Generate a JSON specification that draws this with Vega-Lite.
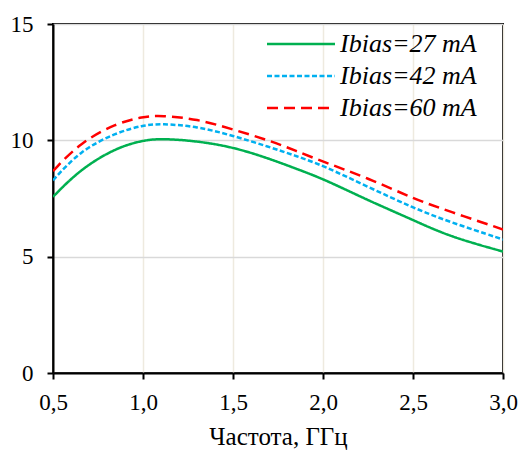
{
  "$schema": "https://vega.github.io/schema/vega-lite/v6.json",
  "width": 450,
  "height": 349,
  "autosize": "none",
  "padding": {"left": 53, "top": 24, "right": 18, "bottom": 77},
  "background": "white",
  "config": {
    "font": "'Liberation Serif', 'Times New Roman', serif",
    "view": {"stroke": "black", "strokeWidth": 2}
  },
  "datasets": {
    "curves": [
      {"f": 0.5, "k": 7.57, "s": "Ibias=27 mA"},
      {"f": 0.65, "k": 8.75, "s": "Ibias=27 mA"},
      {"f": 0.85, "k": 9.68, "s": "Ibias=27 mA"},
      {"f": 1.0, "k": 10.0, "s": "Ibias=27 mA"},
      {"f": 1.1, "k": 10.08, "s": "Ibias=27 mA"},
      {"f": 1.3, "k": 9.97, "s": "Ibias=27 mA"},
      {"f": 1.5, "k": 9.71, "s": "Ibias=27 mA"},
      {"f": 1.7, "k": 9.22, "s": "Ibias=27 mA"},
      {"f": 1.85, "k": 8.78, "s": "Ibias=27 mA"},
      {"f": 2.0, "k": 8.35, "s": "Ibias=27 mA"},
      {"f": 2.25, "k": 7.42, "s": "Ibias=27 mA"},
      {"f": 2.5, "k": 6.58, "s": "Ibias=27 mA"},
      {"f": 2.7, "k": 5.87, "s": "Ibias=27 mA"},
      {"f": 3.0, "k": 5.22, "s": "Ibias=27 mA"},
      {"f": 0.5, "k": 8.28, "s": "Ibias=42 mA"},
      {"f": 0.65, "k": 9.55, "s": "Ibias=42 mA"},
      {"f": 0.85, "k": 10.33, "s": "Ibias=42 mA"},
      {"f": 1.0, "k": 10.65, "s": "Ibias=42 mA"},
      {"f": 1.1, "k": 10.72, "s": "Ibias=42 mA"},
      {"f": 1.3, "k": 10.6, "s": "Ibias=42 mA"},
      {"f": 1.5, "k": 10.2, "s": "Ibias=42 mA"},
      {"f": 1.7, "k": 9.72, "s": "Ibias=42 mA"},
      {"f": 1.85, "k": 9.33, "s": "Ibias=42 mA"},
      {"f": 2.0, "k": 8.92, "s": "Ibias=42 mA"},
      {"f": 2.25, "k": 8.0, "s": "Ibias=42 mA"},
      {"f": 2.5, "k": 7.1, "s": "Ibias=42 mA"},
      {"f": 2.7, "k": 6.5, "s": "Ibias=42 mA"},
      {"f": 3.0, "k": 5.74, "s": "Ibias=42 mA"},
      {"f": 0.5, "k": 8.68, "s": "Ibias=60 mA"},
      {"f": 0.65, "k": 9.9, "s": "Ibias=60 mA"},
      {"f": 0.85, "k": 10.73, "s": "Ibias=60 mA"},
      {"f": 1.0, "k": 11.02, "s": "Ibias=60 mA"},
      {"f": 1.1, "k": 11.07, "s": "Ibias=60 mA"},
      {"f": 1.3, "k": 10.92, "s": "Ibias=60 mA"},
      {"f": 1.5, "k": 10.47, "s": "Ibias=60 mA"},
      {"f": 1.7, "k": 10.0, "s": "Ibias=60 mA"},
      {"f": 1.85, "k": 9.55, "s": "Ibias=60 mA"},
      {"f": 2.0, "k": 9.08, "s": "Ibias=60 mA"},
      {"f": 2.25, "k": 8.38, "s": "Ibias=60 mA"},
      {"f": 2.5, "k": 7.5, "s": "Ibias=60 mA"},
      {"f": 2.7, "k": 6.95, "s": "Ibias=60 mA"},
      {"f": 3.0, "k": 6.17, "s": "Ibias=60 mA"}
    ]
  },
  "data": {"name": "curves"},
  "mark": {"type": "line", "interpolate": "basis", "strokeWidth": 2.5, "clip": true},
  "encoding": {
    "x": {
      "field": "f",
      "type": "quantitative",
      "scale": {"domain": [0.5, 3.0], "nice": false, "zero": false},
      "axis": {
        "values": [0.5, 1.0, 1.5, 2.0, 2.5, 3.0],
        "labelExpr": "replace(format(datum.value, '.1f'), '.', ',')",
        "title": "Частота, ГГц",
        "titleFontSize": 25,
        "titleFontWeight": "normal",
        "titleColor": "black",
        "titlePadding": 10,
        "labelFontSize": 23,
        "labelColor": "black",
        "labelPadding": 12,
        "labelFlush": false,
        "tickColor": "black",
        "tickSize": 6,
        "tickWidth": 2,
        "domainColor": "black",
        "domainWidth": 2,
        "grid": true,
        "gridColor": "#eeeadf",
        "gridWidth": 1.5
      }
    },
    "y": {
      "field": "k",
      "type": "quantitative",
      "scale": {"domain": [0, 15], "nice": false},
      "axis": {
        "values": [0, 5, 10, 15],
        "title": null,
        "labelFontSize": 23,
        "labelColor": "black",
        "labelPadding": 14,
        "tickColor": "black",
        "tickSize": 6,
        "tickWidth": 2,
        "domainColor": "black",
        "domainWidth": 2,
        "grid": true,
        "gridColor": "#d9d9d9",
        "gridWidth": 1.5
      }
    },
    "color": {
      "field": "s",
      "type": "nominal",
      "scale": {
        "domain": ["Ibias=27 mA", "Ibias=42 mA", "Ibias=60 mA"],
        "range": ["#00b050", "#00b0f0", "#ff0000"]
      },
      "legend": {
        "title": null,
        "orient": "none",
        "legendX": 235,
        "legendY": 7,
        "symbolType": "M-4,0H4",
        "symbolSize": 289,
        "symbolStrokeWidth": 2.5,
        "rowPadding": 6,
        "labelOffset": 26,
        "labelFontSize": 26,
        "labelFontStyle": "italic",
        "labelColor": "black",
        "labelLimit": 300
      }
    },
    "strokeDash": {
      "field": "s",
      "type": "nominal",
      "scale": {
        "domain": ["Ibias=27 mA", "Ibias=42 mA", "Ibias=60 mA"],
        "range": [[1, 0], [5, 2.5], [11, 6]]
      },
      "legend": null
    }
  }
}
